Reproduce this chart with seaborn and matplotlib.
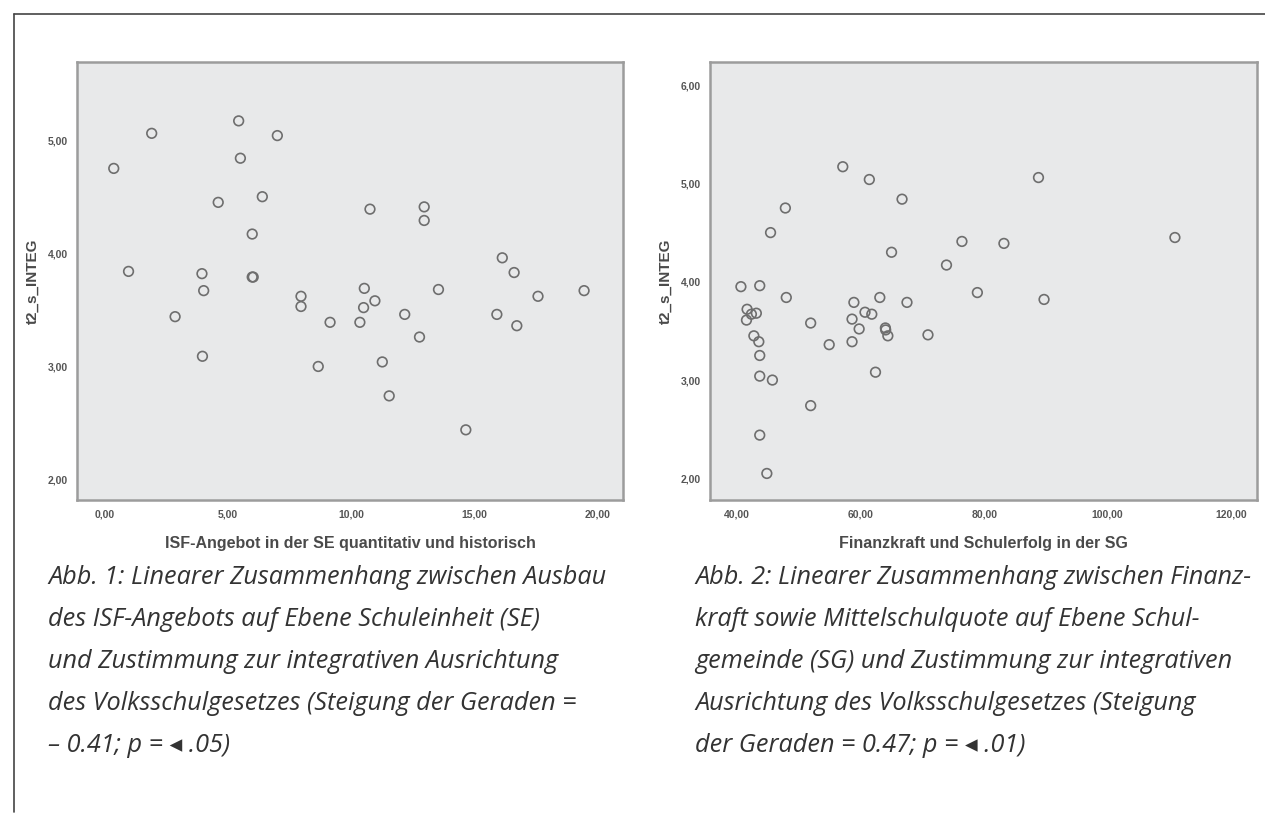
import matplotlib.pyplot as plt
import seaborn as sns
from matplotlib.lines import Line2D
from matplotlib.ticker import FuncFormatter

sns.set_style("white")
plt.rcParams["font.family"] = ["Liberation Sans", "DejaVu Sans"]

# Abb. 1: ISF-Angebot (SE) vs. t2_s_INTEG
isf_x = [0.36, 0.96, 1.90, 2.85, 3.94, 4.01, 3.96, 4.60, 5.43, 5.50, 5.98, 5.98,
         6.02, 6.39, 7.00, 7.96, 7.96, 8.66, 9.14, 10.35, 10.50, 10.53, 10.76,
         10.96, 11.26, 11.54, 12.17, 12.77, 12.96, 12.96, 13.54, 14.65, 15.91,
         16.13, 16.61, 16.72, 17.58, 19.45]
isf_y = [4.75, 3.84, 5.06, 3.44, 3.82, 3.67, 3.09, 4.45, 5.17, 4.84, 4.17, 3.79,
         3.79, 4.50, 5.04, 3.62, 3.53, 3.00, 3.39, 3.39, 3.52, 3.69, 4.39,
         3.58, 3.04, 2.74, 3.46, 3.26, 4.41, 4.29, 3.68, 2.44, 3.46,
         3.96, 3.83, 3.36, 3.62, 3.67]

# Abb. 2: Finanzkraft und Schulerfolg (SG) vs. t2_s_INTEG
fin_x = [40.6, 41.6, 41.5, 42.3, 43.1, 42.7, 43.5, 43.65, 43.65, 43.65, 43.65,
         44.8, 45.4, 45.7, 47.8, 47.95, 51.9, 51.9, 54.9, 57.1, 58.6, 58.6,
         58.9, 59.75, 60.7, 61.4, 61.8, 62.4, 63.1, 64.0, 64.05, 64.4, 65.0,
         66.7, 67.5, 70.9, 73.9, 76.4, 78.9, 83.2, 88.8, 89.7, 110.9]
fin_y = [3.95, 3.72, 3.61, 3.67, 3.68, 3.45, 3.39, 3.96, 3.25, 3.04, 2.44,
         2.05, 4.50, 3.00, 4.75, 3.84, 3.58, 2.74, 3.36, 5.17, 3.62, 3.39,
         3.79, 3.52, 3.69, 5.04, 3.67, 3.08, 3.84, 3.53, 3.51, 3.45, 4.30,
         4.84, 3.79, 3.46, 4.17, 4.41, 3.89, 4.39, 5.06, 3.82, 4.45]

caption_1 = [
    "Abb. 1: Linearer Zusammenhang zwischen Ausbau",
    "des ISF-Angebots auf Ebene Schuleinheit (SE)",
    "und Zustimmung zur integrativen Ausrichtung",
    "des Volksschulgesetzes (Steigung der Geraden =",
    "– 0.41; p = \u25c2 .05)",
]
caption_2 = [
    "Abb. 2: Linearer Zusammenhang zwischen Finanz-",
    "kraft sowie Mittelschulquote auf Ebene Schul-",
    "gemeinde (SG) und Zustimmung zur integrativen",
    "Ausrichtung des Volksschulgesetzes (Steigung",
    "der Geraden = 0.47; p = \u25c2 .01)",
]

comma_fmt = FuncFormatter(lambda v, pos: f"{v:.2f}".replace(".", ","))

fig = plt.figure(figsize=(12.65, 8.27), dpi=100)
ax1 = fig.add_axes([0.0609, 0.3954, 0.4316, 0.5296])
ax2 = fig.add_axes([0.5613, 0.3954, 0.4324, 0.5296])

panels = [
    (ax1, isf_x, isf_y, "ISF-Angebot in der SE quantitativ und historisch",
     (-1.13, 21.03), (1.82, 5.69), [0, 5, 10, 15, 20], [2, 3, 4, 5]),
    (ax2, fin_x, fin_y, "Finanzkraft und Schulerfolg in der SG",
     (35.6, 124.2), (1.78, 6.235), [40, 60, 80, 100, 120], [2, 3, 4, 5, 6]),
]

for ax, xs, ys, xlabel, xlim, ylim, xticks, yticks in panels:
    sns.scatterplot(x=xs, y=ys, ax=ax, s=48, facecolor="none",
                    edgecolor="#6e6e6e", linewidth=1.2)
    ax.set_facecolor("#e8e9ea")
    ax.set_xlim(*xlim)
    ax.set_ylim(*ylim)
    ax.set_xticks(xticks)
    ax.set_yticks(yticks)
    ax.xaxis.set_major_formatter(comma_fmt)
    ax.yaxis.set_major_formatter(comma_fmt)
    ax.tick_params(axis="both", direction="out", length=3.5, width=1,
                   color="#777777", labelsize=7.5, labelcolor="#555555", pad=3)
    for lbl in ax.get_xticklabels() + ax.get_yticklabels():
        lbl.set_fontweight("bold")
    for spine in ax.spines.values():
        spine.set_color("#9c9c9c")
        spine.set_linewidth(1.8)
    ax.set_xlabel(xlabel, fontsize=11.5, fontweight="bold", color="#4a4a4a",
                  labelpad=12)
    ax.set_ylabel("t2_s_INTEG", fontsize=11, fontweight="bold", color="#4a4a4a",
                  labelpad=6)

# captions below the charts
for x0, lines in [(48, caption_1), (695, caption_2)]:
    for i, line in enumerate(lines):
        fig.text(x0 / 1265, 1 - (577 + 42 * i) / 827, line, fontsize=18.2,
                 style="italic", color="#333333", va="center", ha="left",
                 family=["Open Sans", "DejaVu Sans"])

# page frame (top and left edge)
fig.add_artist(Line2D([14 / 1265, 1.0], [1 - 14 / 827, 1 - 14 / 827],
                      color="#444444", linewidth=1.2))
fig.add_artist(Line2D([14 / 1265, 14 / 1265], [1 - 14 / 827, 1 - 812 / 827],
                      color="#444444", linewidth=1.2))

fig.savefig("out.png", dpi=100)
